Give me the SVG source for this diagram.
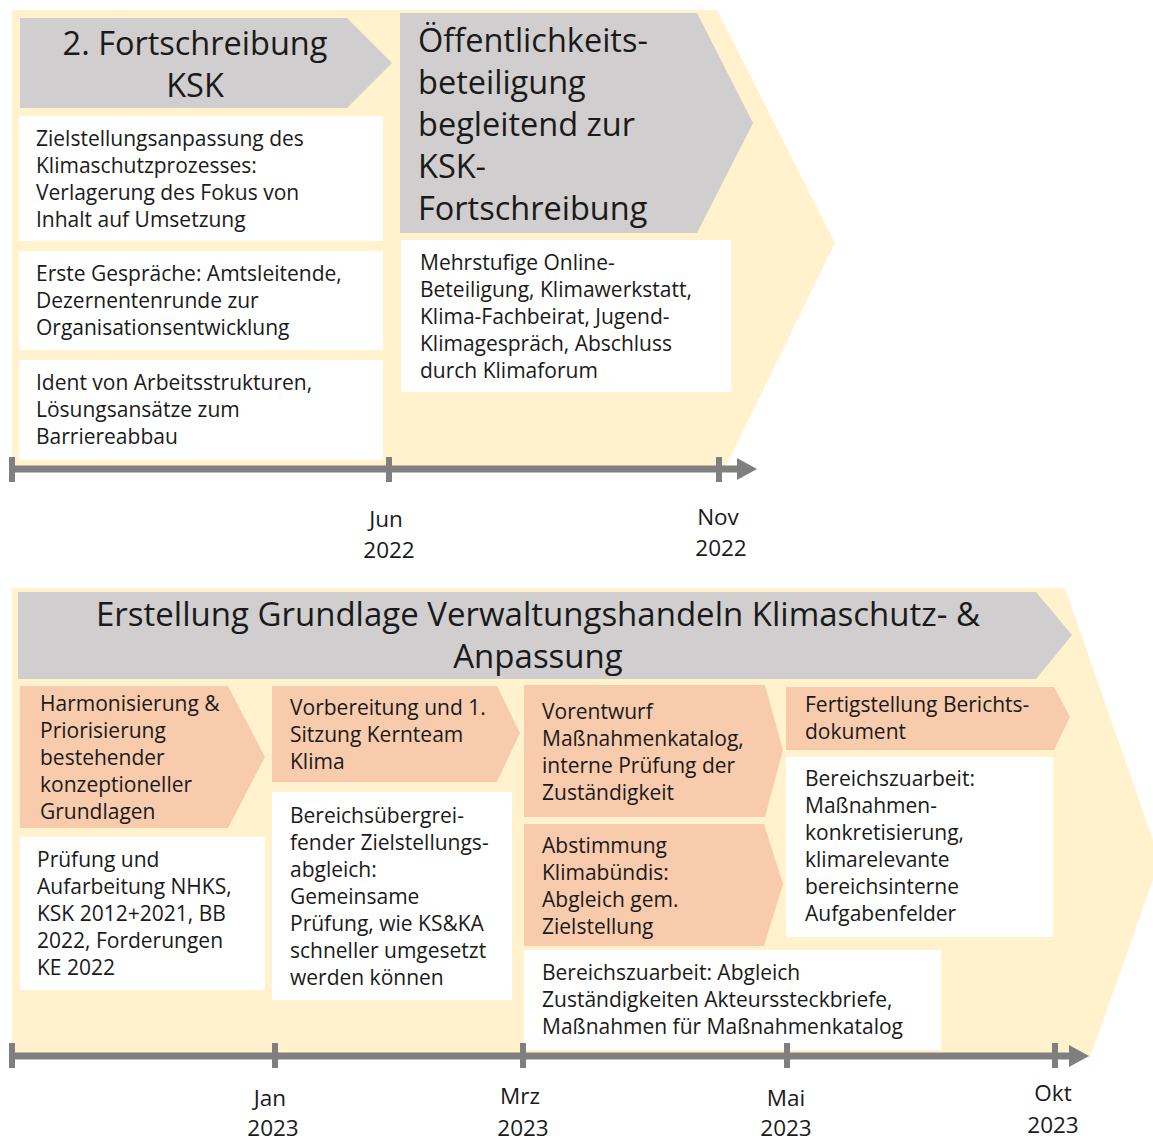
<svg xmlns="http://www.w3.org/2000/svg" width="1153" height="1139" viewBox="0 0 1153 1139">
<style>
.bg{fill:#fff2cc}
.hd{fill:#d0cece}
.or{fill:#f8cbad}
.wb{fill:#ffffff}
text{font-family:"Open Sans","Noto Sans",sans-serif;fill:#1a1a1a}
.t{font-size:21px}
.h{font-size:32.5px}
.h2{font-size:33px}
.d{font-size:22.5px;text-anchor:middle}
.tl{stroke:#7f7f7f;stroke-width:7;fill:none}
.tk{stroke:#7f7f7f;stroke-width:6}
.ah{fill:#7f7f7f}
</style>
<g id="top-background"><polygon class="bg" points="12,10 717,10 835,243 725,468 12,468"/></g>
<g id="node-fortschreibung">
<polygon class="hd" points="20,18 347,18 392,63 347,108 20,108"/>
<text class="h" x="195" y="55" text-anchor="middle">2. Fortschreibung</text>
<text class="h" x="195" y="97" text-anchor="middle">KSK</text>
</g>
<g id="node-zielstellung">
<rect class="wb" x="19" y="116" width="364" height="125"/>
<text class="t" x="36" y="146">Zielstellungsanpassung des</text>
<text class="t" x="36" y="173">Klimaschutzprozesses:</text>
<text class="t" x="36" y="200">Verlagerung des Fokus von</text>
<text class="t" x="36" y="227">Inhalt auf Umsetzung</text>
</g>
<g id="node-gespraeche">
<rect class="wb" x="19" y="251" width="364" height="99"/>
<text class="t" x="36" y="281">Erste Gespräche: Amtsleitende,</text>
<text class="t" x="36" y="308">Dezernentenrunde zur</text>
<text class="t" x="36" y="335">Organisationsentwicklung</text>
</g>
<g id="node-ident">
<rect class="wb" x="19" y="360" width="364" height="100"/>
<text class="t" x="36" y="390">Ident von Arbeitsstrukturen,</text>
<text class="t" x="36" y="417">Lösungsansätze zum</text>
<text class="t" x="36" y="444">Barriereabbau</text>
</g>
<g id="node-oeffentlichkeit">
<polygon class="hd" points="400,13 697,13 753,123 697,233 400,233"/>
<text class="h" x="418" y="52">Öffentlichkeits-</text>
<text class="h" x="418" y="94">beteiligung</text>
<text class="h" x="418" y="136">begleitend zur</text>
<text class="h" x="418" y="178">KSK-</text>
<text class="h" x="418" y="220">Fortschreibung</text>
</g>
<g id="node-online">
<rect class="wb" x="401" y="240" width="330" height="152"/>
<text class="t" x="420" y="270">Mehrstufige Online-</text>
<text class="t" x="420" y="297">Beteiligung, Klimawerkstatt,</text>
<text class="t" x="420" y="324">Klima-Fachbeirat, Jugend-</text>
<text class="t" x="420" y="351">Klimagespräch, Abschluss</text>
<text class="t" x="420" y="378">durch Klimaforum</text>
</g>
<g id="bottom-background"><polygon class="bg" points="12,588 1065,588 1160,860 1090,1058 12,1058"/></g>
<g id="node-erstellung">
<polygon class="hd" points="18,592 1036,592 1072,635 1036,679 18,679"/>
<text class="h2" x="538" y="626" text-anchor="middle">Erstellung Grundlage Verwaltungshandeln Klimaschutz- &amp;</text>
<text class="h2" x="538" y="668" text-anchor="middle">Anpassung</text>
</g>
<g id="node-harmonisierung">
<polygon class="or" points="20,686 228,686 265,757 228,828 20,828"/>
<text class="t" x="40" y="711">Harmonisierung &amp;</text>
<text class="t" x="40" y="738">Priorisierung</text>
<text class="t" x="40" y="765">bestehender</text>
<text class="t" x="40" y="792">konzeptioneller</text>
<text class="t" x="40" y="819">Grundlagen</text>
</g>
<g id="node-pruefung">
<rect class="wb" x="20" y="837" width="245" height="153"/>
<text class="t" x="37" y="867">Prüfung und</text>
<text class="t" x="37" y="894">Aufarbeitung NHKS,</text>
<text class="t" x="37" y="921">KSK 2012+2021, BB</text>
<text class="t" x="37" y="948">2022, Forderungen</text>
<text class="t" x="37" y="975">KE 2022</text>
</g>
<g id="node-vorbereitung">
<polygon class="or" points="272,686 497,686 520,733 497,782 272,782"/>
<text class="t" x="290" y="715">Vorbereitung und 1.</text>
<text class="t" x="290" y="742">Sitzung Kernteam</text>
<text class="t" x="290" y="769">Klima</text>
</g>
<g id="node-bereichsuebergreifend">
<rect class="wb" x="272" y="792" width="240" height="208"/>
<text class="t" x="290" y="823">Bereichsübergrei-</text>
<text class="t" x="290" y="850">fender Zielstellungs-</text>
<text class="t" x="290" y="877">abgleich:</text>
<text class="t" x="290" y="904">Gemeinsame</text>
<text class="t" x="290" y="931">Prüfung, wie KS&amp;KA</text>
<text class="t" x="290" y="958">schneller umgesetzt</text>
<text class="t" x="290" y="985">werden können</text>
</g>
<g id="node-vorentwurf">
<polygon class="or" points="524,685 765,685 783,750 765,817 524,817"/>
<text class="t" x="542" y="719">Vorentwurf</text>
<text class="t" x="542" y="746">Maßnahmenkatalog,</text>
<text class="t" x="542" y="773">interne Prüfung der</text>
<text class="t" x="542" y="800">Zuständigkeit</text>
</g>
<g id="node-abstimmung">
<polygon class="or" points="524,824 764,824 783,884 764,946 524,946"/>
<text class="t" x="542" y="853">Abstimmung</text>
<text class="t" x="542" y="880">Klimabündis:</text>
<text class="t" x="542" y="907">Abgleich gem.</text>
<text class="t" x="542" y="934">Zielstellung</text>
</g>
<g id="node-abgleich">
<rect class="wb" x="524" y="950" width="417" height="100"/>
<text class="t" x="542" y="980">Bereichszuarbeit: Abgleich</text>
<text class="t" x="542" y="1007">Zuständigkeiten Akteurssteckbriefe,</text>
<text class="t" x="542" y="1034">Maßnahmen für Maßnahmenkatalog</text>
</g>
<g id="node-fertigstellung">
<polygon class="or" points="786,687 1054,687 1070,717 1054,750 786,750"/>
<text class="t" x="805" y="712">Fertigstellung Berichts-</text>
<text class="t" x="805" y="739">dokument</text>
</g>
<g id="node-konkretisierung">
<rect class="wb" x="786" y="757" width="267" height="180"/>
<text class="t" x="805" y="786">Bereichszuarbeit:</text>
<text class="t" x="805" y="813">Maßnahmen-</text>
<text class="t" x="805" y="840">konkretisierung,</text>
<text class="t" x="805" y="867">klimarelevante</text>
<text class="t" x="805" y="894">bereichsinterne</text>
<text class="t" x="805" y="921">Aufgabenfelder</text>
</g>
<g id="connectors">
<line class="tl" x1="10" y1="469" x2="740" y2="469"/>
<polygon class="ah" points="737,458 757,469 737,480"/>
<line class="tk" x1="12" y1="457" x2="12" y2="482"/>
<line class="tk" x1="389" y1="457" x2="389" y2="482"/>
<line class="tk" x1="719" y1="457" x2="719" y2="482"/>
<line class="tl" x1="10" y1="1056" x2="1072" y2="1056"/>
<polygon class="ah" points="1069,1045 1089,1056 1069,1067"/>
<line class="tk" x1="12" y1="1043" x2="12" y2="1068"/>
<line class="tk" x1="275" y1="1043" x2="275" y2="1068"/>
<line class="tk" x1="523" y1="1043" x2="523" y2="1068"/>
<line class="tk" x1="787" y1="1043" x2="787" y2="1068"/>
<line class="tk" x1="1055" y1="1043" x2="1055" y2="1068"/>
</g>
<g id="labels">
<text class="d" x="386" y="527">Jun</text>
<text class="d" x="389" y="558">2022</text>
<text class="d" x="718" y="525">Nov</text>
<text class="d" x="721" y="556">2022</text>
<text class="d" x="270" y="1106">Jan</text>
<text class="d" x="273" y="1136">2023</text>
<text class="d" x="520" y="1104">Mrz</text>
<text class="d" x="523" y="1136">2023</text>
<text class="d" x="786" y="1106">Mai</text>
<text class="d" x="786" y="1136">2023</text>
<text class="d" x="1053" y="1101">Okt</text>
<text class="d" x="1053" y="1133">2023</text>
</g>
</svg>
